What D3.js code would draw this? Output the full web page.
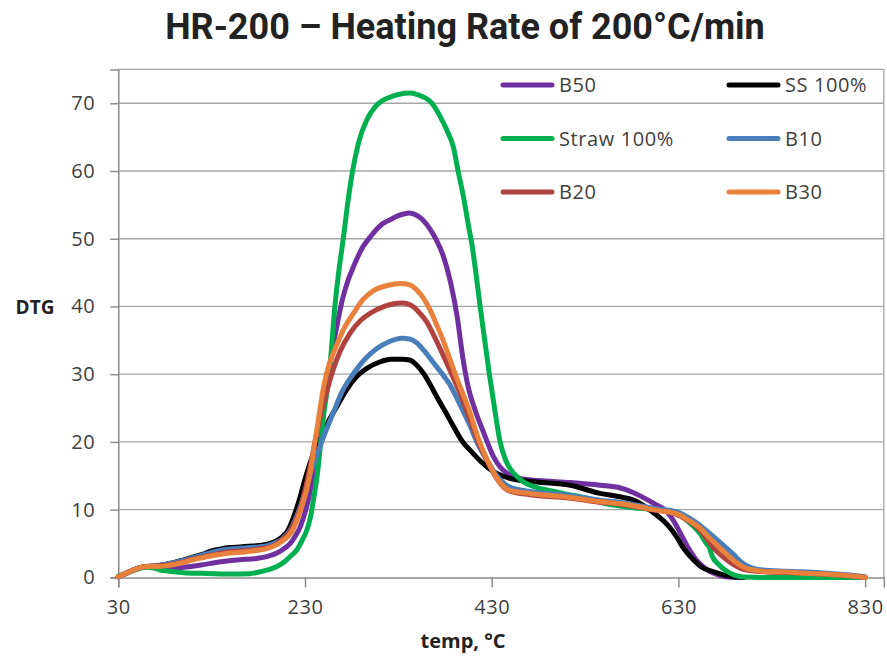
<!DOCTYPE html>
<html><head><meta charset="utf-8">
<script src="https://cdn.jsdelivr.net/npm/d3@7"></script>
<style>
body{margin:0;background:#fff;}
svg{display:block;}
</style></head>
<body><svg id="c" width="887" height="659"></svg>
<script>
// ---------- DATA ----------
const xTicks = [30, 230, 430, 630, 830];
const yTicks = [0, 10, 20, 30, 40, 50, 60, 70];
const seriesNames = ["B50", "SS 100%", "Straw 100%", "B10", "B20", "B30"];
const seriesColors = ["#7030A0", "#000000", "#00B050", "#4A7EBB", "#B0423F", "#E8813B"];

const b50T = [30,40,50,60,68,76,85,100,117,140,160,178,190,200,207,214,220,225,230,235,239,243,248,253,258,264,270,275,282,292,300,314,321,330,342,349,356,363,370,378,386,393,399,405,412,421,432,439,446,460,480,514,546,568,582,595,605,617,625,633,640,648,657,668,680,690,700];
const b50V = [0.1,0.7,1.3,1.6,1.6,1.4,1.3,1.5,1.8,2.3,2.6,2.8,3.1,3.6,4.2,5.0,6.2,7.5,9.6,12.4,15.5,18.8,23.5,28.2,32.5,37,41,43.4,45.9,48.8,50.3,52.3,52.8,53.4,53.8,53.5,52.8,51.6,50.0,47.5,43.5,38.5,32.5,28,24.8,21.5,17.8,16.3,15.4,14.6,14.3,14.0,13.6,13.2,12.5,11.6,10.8,9.8,8.3,6.3,4.5,2.8,1.5,0.6,0.1,0.02,0];

const ssT = [30,40,50,60,70,80,90,100,110,120,130,140,150,160,170,180,190,198,205,212,218,224,230,237,246,255,264,275,285,298,310,322,334,342,350,357,364,371,381,389,399,408,417,426,435,450,478,514,546,567,582,600,612,620,628,634,640,646,655,668,680,690,700];
const ssV = [0.1,0.7,1.3,1.6,1.7,1.9,2.2,2.6,3.0,3.4,3.9,4.2,4.4,4.5,4.6,4.7,4.9,5.3,5.9,7.0,9.0,11.5,14.5,17.5,20.3,23,25.2,27.8,29.6,31.0,31.8,32.2,32.2,32.1,31.3,30.1,28.5,26.7,24.3,22.3,20.0,18.6,17.3,16.2,15.4,14.6,14.1,13.6,12.4,11.9,11.4,9.9,8.6,7.5,6.0,4.6,3.5,2.6,1.5,0.8,0.3,0.05,0];

const strawT = [30,40,50,60,68,75,85,100,120,150,170,180,190,200,208,215,221,227,232,236,239,243,246,250,256,262,266,271,276,281,288,296,306,321,330,343,352,360,366,375,382,389,394,400,405,409,413,417.6,422.5,427.5,433,439,445,450,457,464,475,489,510,532,546,564,589,610,628,640,653,660,663,666,674,683,690,700,720,760,830];
const strawV = [0.2,0.7,1.2,1.5,1.4,1.1,0.9,0.7,0.6,0.5,0.55,0.75,1.1,1.6,2.3,3.2,4.0,5.5,7.0,9,11.4,15,18.8,24,30,40,45,50,55.5,60,64.5,67.5,69.6,70.9,71.3,71.5,71.2,70.7,70,68,66,63.5,60,56,52,49,45,40,35,30,25,20,17.3,16,14.9,14.1,13.4,12.9,12.3,11.7,11.1,10.6,10.2,9.9,9.5,8.3,6.5,5.0,4.5,3.2,1.8,0.8,0.35,0.05,0,0,0];

const b10T = [30,40,50,60,70,80,90,100,110,120,130,140,150,160,170,180,190,198,205,215,225,235,242,250,260,270,282,294,307,320,334,342,350,358,367,376,385,395,407,414,425,435,443,450,471,514,546,567,589,603,628,640,653,665,676,689,697,707,720,746,782,810,830];
const b10V = [0.1,0.7,1.3,1.6,1.7,1.9,2.2,2.5,2.9,3.3,3.7,4.0,4.2,4.3,4.4,4.5,4.7,5.1,5.6,7.2,10.5,15,17.8,20.8,24.2,27.5,30.1,32.2,33.8,34.8,35.3,35.2,34.6,33.4,31.8,30.2,28.5,25.8,22.3,20,17.3,15.1,13.9,13.3,12.7,12.1,11.4,11.1,10.6,10.2,9.7,8.9,7.7,6.3,5.0,3.4,2.3,1.5,1.1,0.9,0.7,0.4,0.1];

const b20T = [30,40,50,60,70,80,90,100,110,120,130,140,150,160,170,180,190,198,205,215,225,235,240,246,253,260,268,278,290,300,315,325,334,343,353,360,367,374,382,389,396,402,407,415,425,435,443,450,471,514,546,567,589,603,628,640,653,664,670,678,689,703,725,750,790,830];
const b20V = [0.1,0.7,1.3,1.6,1.7,1.8,2.0,2.3,2.7,3.0,3.3,3.6,3.8,3.9,4.0,4.2,4.4,4.8,5.5,7.0,10.2,16,19.5,23.5,27.3,30.6,33.5,36,38,39,40,40.4,40.5,40.2,39,37.8,36,34,31.6,29.4,27.2,25,23.2,20.2,17.2,14.7,13.3,12.7,12.2,11.7,11.1,10.8,10.3,10.0,9.3,8.4,7.0,5.0,4.0,3.0,1.9,1.1,0.8,0.7,0.45,0];

const b30T = [30,40,50,60,70,80,90,100,110,120,130,140,150,160,170,180,190,198,205,215,225,235,240,244,250,256,264,272,282,292,303,318,333,342,350,357,364,371,378,385,392,400,407,412,417,425,435,443,450,471,514,546,567,589,603,628,640,653,662,671,680,689,696,703,715,725,746,760,782,800,815,830];
const b30V = [0.1,0.7,1.3,1.6,1.6,1.7,1.9,2.2,2.6,2.9,3.2,3.4,3.6,3.7,3.85,4.0,4.3,4.7,5.3,6.6,9.8,15.0,19.5,23,28.2,31.5,34.3,36.8,39,41,42.3,43.1,43.4,43.2,42.4,41.2,39.5,37.3,35,32.3,29.6,26.8,24.2,22,20,17.4,14.8,13.4,12.8,12.4,11.8,11.2,10.9,10.4,10.0,9.4,8.5,7.3,6.0,4.8,3.6,2.5,1.8,1.3,1.0,0.85,0.8,0.65,0.55,0.4,0.25,0];

const seriesT = [b50T, ssT, strawT, b10T, b20T, b30T];
const seriesV = [b50V, ssV, strawV, b10V, b20V, b30V];

// ---------- CHART ----------
const svg = d3.select("#c");
const L = 118.3, R = 883.8, T = 69.4, B = 577.4;
const x = d3.scaleLinear().domain([30, 850]).range([L, R]);
const y = d3.scaleLinear().domain([0, 75]).range([B, T]);
const FONT = "'Open Sans', 'Noto Sans', sans-serif";

// title
svg.append("text").attr("x", 465).attr("y", 39).attr("text-anchor", "middle")
  .style("font-family", "Roboto, sans-serif").style("font-weight", 700)
  .style("font-size", "36px").style("fill", "#222").text("HR-200 \u2013 Heating Rate of 200\u00B0C/min");

// gridlines
svg.append("g").selectAll("line").data(yTicks.filter(d => d > 0)).join("line")
  .attr("x1", L).attr("x2", R).attr("y1", d => y(d)).attr("y2", d => y(d))
  .attr("stroke", "#A6A6A6").attr("stroke-width", 1.3);

// plot border (top & right)
svg.append("path").attr("d", `M${L},${T}H${R}V${B}`).attr("fill", "none")
  .attr("stroke", "#A6A6A6").attr("stroke-width", 1.3);

// axes
const yAxis = svg.append("g").attr("transform", `translate(${L},0)`)
  .call(d3.axisLeft(y).tickValues(yTicks).tickSize(8).tickPadding(15));
const xAxis = svg.append("g").attr("transform", `translate(0,${B})`)
  .call(d3.axisBottom(x).tickValues(xTicks).tickSize(10).tickPadding(12));
[yAxis, xAxis].forEach(a => {
  a.select(".domain").attr("stroke", "#8C8C8C").attr("stroke-width", 1.5);
  a.selectAll(".tick line").attr("stroke", "#8C8C8C").attr("stroke-width", 1.5);
  a.selectAll(".tick text").style("font-family", FONT).style("font-size", "20px")
    .style("letter-spacing", "0.6px").style("fill", "#404040");
});

// lines
const line = d3.line().x(d => x(d[0])).y(d => y(d[1])).curve(d3.curveMonotoneX);
svg.append("g").selectAll("path").data(seriesNames).join("path")
  .attr("d", (n, i) => line(seriesT[i].map((t, j) => [t, seriesV[i][j]])))
  .attr("fill", "none").attr("stroke", (n, i) => seriesColors[i])
  .attr("stroke-width", 5).attr("stroke-linejoin", "round").attr("stroke-linecap", "round");

// legend
const leg = svg.append("g");
seriesNames.forEach((n, i) => {
  const col = i % 2, row = Math.floor(i / 2);
  const lx = col === 0 ? 503 : 729, ly = 85 + row * 53.5;
  const g = leg.append("g");
  g.append("line").attr("x1", lx).attr("x2", lx + 49).attr("y1", ly).attr("y2", ly)
    .attr("stroke", seriesColors[i]).attr("stroke-width", 5).attr("stroke-linecap", "round");
  g.append("text").attr("x", lx + 56).attr("y", ly).attr("dy", "0.35em")
    .style("font-family", FONT).style("font-size", "20px").style("letter-spacing", "0.6px")
    .style("fill", "#404040").text(n);
});

// axis titles
svg.append("text").attr("x", 35).attr("y", 307).attr("dy", "0.35em").attr("text-anchor", "middle")
  .style("font-family", FONT).style("font-weight", 700).style("font-size", "19px").style("fill", "#222").text("DTG");
svg.append("text").attr("x", 463).attr("y", 641).attr("dy", "0.35em").attr("text-anchor", "middle")
  .style("font-family", FONT).style("font-weight", 700).style("font-size", "20px").style("fill", "#222").text("temp, \u00B0C");
</script></body></html>
